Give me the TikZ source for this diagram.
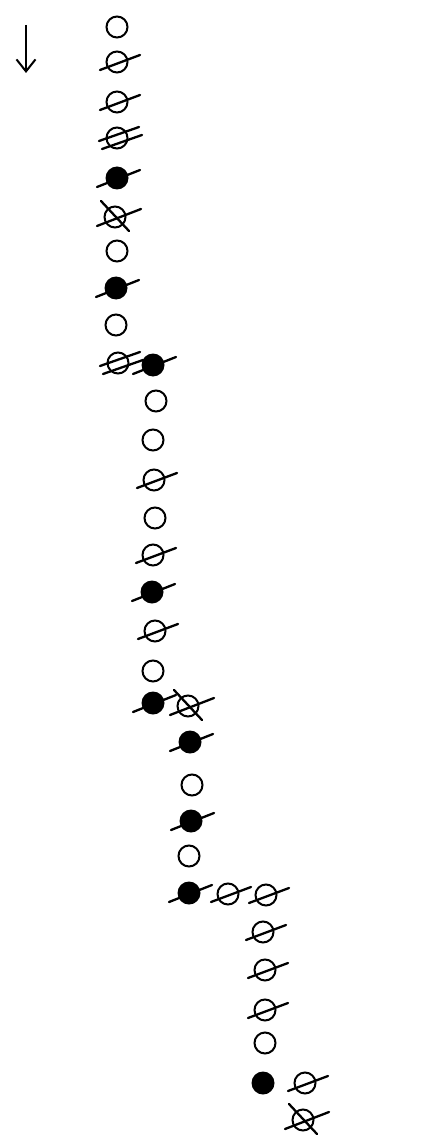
\documentclass[tikz,border=0pt]{standalone}
\usetikzlibrary{arrows.meta}
\tikzset{
  x=1pt, y=-1pt,
  ring/.style={draw=black, line width=2pt},
  bar/.style={draw=black, line width=2.3pt, line cap=round},
  openc/.pic={\draw[ring] (0,0) circle[radius=10.5pt];},
  slashc/.pic={\draw[ring] (0,0) circle[radius=10.5pt];
               \draw[bar] (-17,8) -- (23,-7);},
  dslashc/.pic={\draw[ring] (0,0) circle[radius=10.5pt];
               \draw[bar] (-18,3) -- (22,-11);
               \draw[bar] (-15,11) -- (25,-3);},
  xslashc/.pic={\draw[ring] (0,0) circle[radius=10.5pt];
               \draw[bar] (-18,9) -- (26,-8);
               \draw[bar] (-14,-16) -- (14,14);},
  fslashc/.pic={\fill[black] (0,0) circle[radius=11.5pt];
               \draw[bar] (-20,9) -- (23,-8);},
  fillc/.pic={\fill[black] (0,0) circle[radius=11.5pt];},
}
\begin{document}
\begin{tikzpicture}
\useasboundingbox (0,0) rectangle (445,1147);
% direction arrow
\coordinate (a0) at (26,25);
\coordinate (a1) at (26,73);
\draw[line width=2pt, -{Straight Barb[length=12pt,width=19pt,line width=2pt]}] (a0) -- (a1);
% column 1
\pic (p1) at (117,27) {openc};
\pic (p2) at (117,62) {slashc};
\pic (p3) at (117,102) {slashc};
\pic (p4) at (117,138) {dslashc};
\pic (p5) at (117,178) {fslashc};
\pic (p6) at (115,217) {xslashc};
\pic (p7) at (117,251) {openc};
\pic (p8) at (116,288) {fslashc};
\pic (p9) at (116,325) {openc};
\pic (p10) at (118,363) {dslashc};
\pic (p10b) at (153,365) {fslashc};
% column 2
\pic (p11) at (156,401) {openc};
\pic (p12) at (153,440) {openc};
\pic (p13) at (154,480) {slashc};
\pic (p14) at (155,518) {openc};
\pic (p15) at (153,555) {slashc};
\pic (p16) at (152,592) {fslashc};
\pic (p17) at (155,631) {slashc};
\pic (p18) at (153,671) {openc};
\pic (p19) at (153,703) {fslashc};
\pic (p19b) at (188,706) {xslashc};
% column 3
\pic (p20) at (190,742) {fslashc};
\pic (p21) at (192,785) {openc};
\pic (p22) at (191,821) {fslashc};
\pic (p23) at (189,856) {openc};
\pic (p24) at (189,893) {fslashc};
\pic (p24b) at (228,894) {slashc};
\pic (p24c) at (266,895) {slashc};
% column 4
\pic (p25) at (263,932) {slashc};
\pic (p26) at (265,970) {slashc};
\pic (p27) at (265,1010) {slashc};
\pic (p28) at (265,1043) {openc};
\pic (p29) at (263,1083) {fillc};
\pic (p29b) at (305,1083) {slashc};
\pic (p30) at (303,1120) {xslashc};
\end{tikzpicture}
\end{document}
